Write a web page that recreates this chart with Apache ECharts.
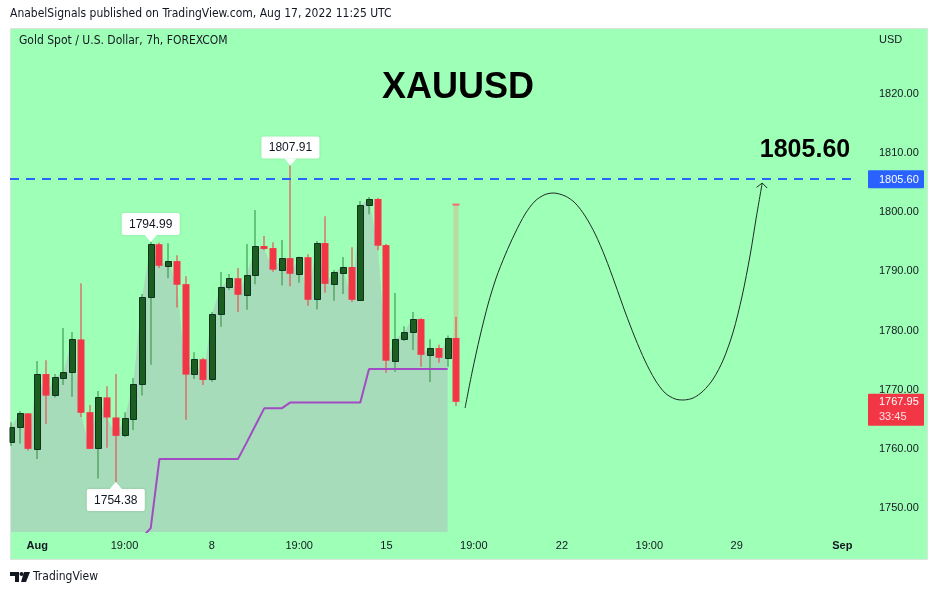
<!DOCTYPE html>
<html><head><meta charset="utf-8">
<script src="https://cdn.jsdelivr.net/npm/echarts@6/dist/echarts.min.js"></script>
<style>html,body{margin:0;padding:0;background:#fff}#c{width:938px;height:595px}</style>
</head><body><div id="c"></div>
<script>
// ---- data (7h candles, XAUUSD) ----
const opens  = [1761.1,1763.65,1766.0,1760.0,1772.65,1769.0,1772.05,1772.9,1778.5,1766.2,1760.0,1768.7,1765.3,1762.2,1765.1,1770.95,1785.6,1794.6,1790.95,1791.75,1787.85,1772.55,1775.15,1771.7,1782.7,1787.25,1788.85,1786.05,1789.3,1794.3,1793.95,1790.2,1792.25,1789.6,1792.4,1785.2,1794.8,1787.9,1789.8,1790.75,1785.2,1801.2,1802.25,1794.45,1774.9,1778.5,1779.7,1781.95,1775.9,1777.05,1775.4,1778.75];
const highs  = [1764.5,1766.4,1766.0,1774.85,1775.0,1772.65,1780.45,1779.75,1788.0,1767.4,1769.8,1770.6,1772.65,1766.2,1772.0,1786.2,1794.99,1794.85,1794.75,1792.75,1789.2,1776.35,1775.4,1783.15,1789.9,1789.55,1790.6,1794.65,1800.4,1796.0,1794.95,1795.3,1807.91,1792.5,1792.9,1795.15,1799.35,1790.25,1792.45,1794.1,1801.9,1802.6,1802.4,1794.65,1786.35,1780.75,1783.15,1782.1,1778.55,1777.6,1779.15,1782.35];
const lows   = [1760.5,1760.9,1759.7,1758.3,1764.2,1768.7,1770.8,1768.8,1765.4,1760.0,1755.0,1760.2,1754.38,1762.0,1763.2,1769.0,1774.2,1790.6,1788.85,1783.9,1764.9,1771.8,1770.8,1771.35,1780.65,1786.85,1783.15,1783.5,1787.85,1793.6,1789.95,1787.6,1787.5,1788.1,1784.2,1783.55,1786.4,1785.05,1786.2,1784.85,1785.05,1799.65,1793.6,1772.85,1773.05,1778.25,1776.7,1773.9,1771.3,1774.55,1773.9,1767.25];
const closes = [1763.65,1766.0,1760.0,1772.6,1769.0,1772.1,1773.0,1778.5,1766.1,1760.0,1768.7,1765.3,1762.2,1765.15,1770.95,1785.6,1794.6,1790.95,1791.75,1787.75,1772.55,1775.15,1771.65,1782.75,1787.3,1788.85,1786.05,1789.35,1794.25,1793.8,1790.3,1792.2,1789.6,1792.4,1785.2,1794.75,1787.9,1789.85,1790.75,1785.2,1801.25,1802.25,1794.35,1774.9,1778.55,1779.75,1781.95,1775.9,1777.05,1775.4,1778.75,1767.95];
// trailing stop (purple), null where not drawn
const trail = [null,null,null,null,null,null,null,null,null,null,null,null,null,null,null,1745.0,1746.6,1758.3,1758.3,1758.3,1758.3,1758.3,1758.3,1758.3,1758.3,1758.3,1758.3,1761.1,1764.0,1766.85,1766.85,1766.85,1767.85,1767.85,1767.85,1767.85,1767.85,1767.85,1767.85,1767.85,1767.85,1773.5,1773.5,1773.5,1773.5,1773.5,1773.5,1773.5,1773.5,1773.5,1773.5,null];
// hand-drawn projection path (bar index, price)
const projX = [52.0,52.81,53.72,54.64,55.56,56.59,57.73,58.88,60.02,61.17,62.08,63.46,64.6,65.75,66.9,68.04,69.19,70.33,71.48,72.62,73.77,74.91,76.06,76.98,78.12,79.27,80.41,81.56,82.7,83.73,84.65,85.34,86.03];
const projY = [1766.91,1772.99,1779.08,1784.49,1788.89,1792.78,1796.5,1799.71,1801.91,1803.01,1803.26,1802.75,1801.57,1799.37,1796.33,1792.44,1787.87,1783.14,1778.74,1774.85,1771.64,1769.44,1768.43,1768.26,1768.6,1769.78,1771.81,1775.02,1779.76,1785.84,1792.78,1799.03,1804.95];
const arrowX = [85.38,86.03,86.6];
const arrowY = [1804.2,1804.95,1804.1];
const targetPrice = 1805.60;
const lastPrice = 1767.95;
const countdown = '33:45';
const ghostTop = 1801.3;
const pinIdx = [32,16,12];
const pinVal = [1807.91,1794.99,1754.38];
const pinDir = [0,0,1]; // 0: label above, 1: label below
const xTickPos = [3,13,23,33,43,53,63.1,73.1,83.1,95.2];
const xTickLabels = ['Aug','19:00','8','19:00','15','19:00','22','19:00','29','Sep'];
const yTicks = [1750,1760,1770,1780,1790,1800,1810,1820];

// ---- build ----
const FONT = '"Liberation Sans", Arial, sans-serif';
const candleData = opens.map((o,i)=>[i,o,closes[i],lows[i],highs[i]]);
const areaData = closes.slice(0, closes.length-1).map((c,i)=>[i,c]);
const trailData = trail.map((v,i)=>[i,v]).filter(d=>d[1]!==null);
const projData = projX.map((x,i)=>[x,projY[i]]);
const arrowData = arrowX.map((x,i)=>[x,arrowY[i]]);
const pinData = pinIdx.map((x,i)=>[x,pinVal[i],pinDir[i]]);
const lastIdx = closes.length-1;

function renderCandle(params, api){
  const i=api.value(0), o=api.value(1), c=api.value(2), l=api.value(3), h=api.value(4);
  const up = c>=o;
  const cs = params.coordSys;
  const x = api.coord([i,o])[0];
  const yO=api.coord([i,o])[1], yC=api.coord([i,c])[1], yH=api.coord([i,h])[1], yL=api.coord([i,l])[1];
  const children=[];
  const xr = Math.round(x);
  if (i===lastIdx){
    const yG = api.coord([i,ghostTop])[1];
    const g = echarts.graphic.clipRectByRect({x:xr-2.5,y:yG,width:5,height:Math.min(yO,yC)-yG},cs);
    if(g) children.push({type:'rect',shape:g,style:{fill:'#b9dba3'}});
    children.push({type:'rect',shape:{x:xr-3.5,y:yG-1,width:7,height:2},style:{fill:'#f56b74'}});
  }
  const wk = echarts.graphic.clipRectByRect({x:xr-0.5,y:yH,width:1,height:yL-yH},cs);
  if(wk) children.push({type:'rect',shape:wk,style:{fill: up?'#2e8b3a':'#f23645'}});
  const top=Math.min(yO,yC), bot=Math.max(yO,yC);
  if(up){
    const b = echarts.graphic.clipRectByRect({x:xr-3+0.5,y:Math.round(top)+0.5,width:6,height:Math.max(Math.round(bot-top),1)},cs);
    if(b) children.push({type:'rect',shape:b,style:{fill:'#1b5e20',stroke:'#0d3321',lineWidth:1}});
  } else {
    const b = echarts.graphic.clipRectByRect({x:xr-3.5,y:top,width:7,height:Math.max(bot-top,1)},cs);
    if(b) children.push({type:'rect',shape:b,style:{fill:'#f23645'}});
  }
  return {type:'group',children};
}

function renderPin(params, api){
  const p = api.coord([api.value(0),api.value(1)]);
  const dir = api.value(2);
  const w=58,bh=22,th=7;
  let boxY, tri;
  if(dir===0){ boxY=p[1]-th-bh; tri=[[p[0]-6,p[1]-th],[p[0]+6,p[1]-th],[p[0],p[1]]]; }
  else { boxY=p[1]+th; tri=[[p[0]-6,p[1]+th],[p[0]+6,p[1]+th],[p[0],p[1]]]; }
  return {type:'group',children:[
    {type:'rect',shape:{x:p[0]-w/2,y:boxY,width:w,height:bh,r:2},style:{fill:'#ffffff',shadowBlur:3,shadowColor:'rgba(0,0,0,0.12)'}},
    {type:'polygon',shape:{points:tri},style:{fill:'#ffffff'}},
    {type:'text',style:{text:api.value(1).toFixed(2),x:p[0],y:boxY+bh/2+0.5,align:'center',verticalAlign:'middle',fill:'#131722',font:'12px '+FONT}}
  ]};
}

function renderTag(params, api){
  const cs=params.coordSys;
  const price=api.value(0), kind=api.value(1);
  const y=api.coord([0,price])[1];
  const x0=cs.x+cs.width+10;
  if(kind===0){
    return {type:'group',children:[
      {type:'rect',shape:{x:x0,y:y-9,width:56,height:18,r:1},style:{fill:'#2962ff'}},
      {type:'text',style:{text:price.toFixed(2),x:x0+11,y:y+0.5,verticalAlign:'middle',fill:'#ffffff',font:'11px '+FONT}}
    ]};
  }
  return {type:'group',children:[
    {type:'rect',shape:{x:x0,y:y-8,width:56,height:32,r:1},style:{fill:'#f23645'}},
    {type:'text',style:{text:price.toFixed(2),x:x0+11,y:y+0.5,verticalAlign:'middle',fill:'#ffffff',font:'11px '+FONT}},
    {type:'text',style:{text:countdown,x:x0+11,y:y+15,verticalAlign:'middle',fill:'#ffe0e3',font:'11px '+FONT}}
  ]};
}

const chart = echarts.init(document.getElementById('c'), null, {renderer:'canvas'});
chart.setOption({
  animation:false,
  backgroundColor:'#ffffff',
  grid:{left:10,right:80,top:28,bottom:63},
  xAxis:{type:'value',min:-0.115,max:97.0,
    axisLine:{show:false},axisTick:{show:false},splitLine:{show:false},
    axisLabel:{customValues:xTickPos,margin:8,color:'#131722',fontSize:11,fontFamily:FONT,
      formatter:function(v){
        let k=0,best=1e9; xTickPos.forEach((p,j)=>{const d=Math.abs(p-v); if(d<best){best=d;k=j;}});
        const t=xTickLabels[k];
        return (t==='Aug'||t==='Sep')?'{b|'+t+'}':t;
      },
      rich:{b:{fontWeight:'bold',fontSize:11,fontFamily:FONT,color:'#131722'}}}
  },
  yAxis:{type:'value',position:'right',min:1745.94,max:1831.16,scale:true,
    axisLine:{show:false},axisTick:{show:false},splitLine:{show:false},
    axisLabel:{customValues:yTicks,margin:21,color:'#131722',fontSize:11,fontFamily:FONT,
      formatter:v=>v.toFixed(2)}
  },
  graphic:[
    {type:'rect',z:-10,shape:{x:10.5,y:28.5,width:917,height:531},style:{fill:'#9effb6',stroke:'#d8e4dc',lineWidth:1}},
    {type:'text',left:10,top:8,style:{text:'AnabelSignals published on TradingView.com, Aug 17, 2022 11:25 UTC',fill:'#131722',font:'12px "DejaVu Sans Condensed", sans-serif'}},
    {type:'text',left:19,top:35,style:{text:'Gold Spot / U.S. Dollar, 7h, FOREXCOM',fill:'#131722',font:'12px "DejaVu Sans Condensed", sans-serif'}},
    {type:'text',left:879,top:34,style:{text:'USD',fill:'#131722',font:'11px '+FONT}},
    {type:'text',x:458,y:88,style:{text:'XAUUSD',align:'center',verticalAlign:'middle',fill:'#000000',font:'bold 36px '+FONT}},
    {type:'text',x:805,y:150,style:{text:'1805.60',align:'center',verticalAlign:'middle',fill:'#000000',font:'bold 25px '+FONT}},
    {type:'polygon',shape:{points:[[10,572],[19,572],[19,582],[15,582],[15,576],[10,576]]},style:{fill:'#131722'}},
    {type:'circle',shape:{cx:21.5,cy:574,r:2},style:{fill:'#131722'}},
    {type:'polygon',shape:{points:[[24,572],[30,572],[26,582],[21,582]]},style:{fill:'#131722'}},
    {type:'text',left:33,top:571,style:{text:'TradingView',fill:'#131722',font:'12px "DejaVu Sans Condensed", sans-serif'}}
  ],
  series:[
    {type:'line',data:areaData,symbol:'none',z:1,lineStyle:{width:0},areaStyle:{color:'#a6dcb9',opacity:1,origin:'start'}},
    {type:'custom',renderItem:renderCandle,data:candleData,z:4,encode:{x:0,y:[1,2,3,4]}},
    {type:'line',data:trailData,symbol:'none',z:5,lineStyle:{color:'#a34bc4',width:2}},
    {type:'line',data:projData,symbol:'none',smooth:0.3,z:6,lineStyle:{color:'#1e2a26',width:1},
      markLine:{silent:true,symbol:'none',label:{show:false},lineStyle:{color:'#2962ff',width:2,type:[9,7]},data:[{yAxis:targetPrice}]}},
    {type:'line',data:arrowData,symbol:'none',z:6,lineStyle:{color:'#1e2a26',width:1}},
    {type:'custom',renderItem:renderPin,data:pinData,z:7,encode:{x:0,y:1}},
    {type:'custom',renderItem:renderTag,data:[[targetPrice,0],[lastPrice,1]],z:8,encode:{y:0}}
  ]
});
</script></body></html>
